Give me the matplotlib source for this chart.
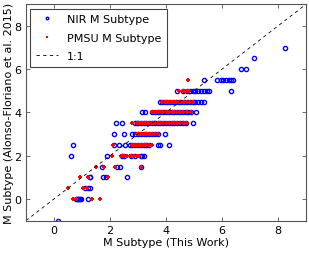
import matplotlib
matplotlib.use('Agg')
import matplotlib.pyplot as plt
import numpy as np

nir_levels = [-1, 0, 0.5, 1, 1.5, 2, 2.5, 3, 3.5, 4, 4.5, 5, 5.5, 6, 6.5, 7]
nir_x_rows = [
    [0.15],
    [0.78, 0.82, 0.85, 0.88, 0.92, 0.95, 1.2],
    [1.12, 1.2, 1.27],
    [1.27, 1.3, 1.74, 1.87, 2.6],
    [1.72, 2.25, 2.37, 3.1],
    [0.61, 1.9, 2.43, 2.5, 2.75, 2.9, 3.1, 3.15, 3.2],
    [0.69, 2.15, 2.33, 2.55, 2.7, 2.8, 2.9, 3.0, 3.1, 3.2, 3.3, 3.4, 3.7, 3.8, 4.1],
    [2.15, 2.5, 2.8, 2.9, 3.0, 3.1, 3.2, 3.3, 3.4, 3.5, 3.6, 3.7, 3.95],
    [2.22, 2.43, 2.9, 2.95, 3.0, 3.1, 3.2, 3.3, 3.4, 3.5, 3.6, 3.7, 3.8, 3.9, 4.0,
     4.1, 4.2, 4.3, 4.4, 4.5, 4.6, 4.7, 4.98],
    [3.15, 3.27, 3.5, 3.6, 3.7, 3.8, 3.9, 4.0, 4.1, 4.2, 4.3, 4.4, 4.5, 4.6, 4.7,
     4.8, 4.9, 5.07],
    [3.78, 3.85, 3.95, 4.05, 4.15, 4.25, 4.35, 4.45, 4.55, 4.65, 4.75, 4.85, 4.95,
     5.05, 5.15, 5.25, 5.37],
    [4.4, 4.6, 4.75, 4.85, 4.95, 5.05, 5.15, 5.25, 5.35, 5.45, 5.55, 6.32],
    [5.37, 5.84, 5.96, 6.05, 6.14, 6.26, 6.33, 6.4],
    [6.68, 6.86],
    [7.13],
    [8.24],
]

pmsu_levels = [0, 0.5, 1, 1.5, 2, 2.5, 3, 3.5, 4, 4.5, 5, 5.5]
pmsu_x_rows = [
    [0.67, 0.8, 1.35, 1.63],
    [0.51, 1.05, 1.17],
    [0.93, 1.23, 1.93],
    [1.5, 1.8, 2.17, 3.1],
    [2.07, 2.4, 2.45, 2.5, 2.6, 2.7, 2.75, 2.85, 2.95, 3.05],
    [2.1, 2.8, 2.85, 2.9, 2.95, 3.0, 3.05, 3.1, 3.15, 3.2, 3.25, 3.3, 3.4, 3.5],
    [2.97, 3.05, 3.1, 3.15, 3.2, 3.25, 3.3, 3.35, 3.4, 3.45, 3.5, 3.6, 3.7],
    [2.8, 2.95, 3.0, 3.05, 3.1, 3.15, 3.2, 3.25, 3.3, 3.35, 3.4, 3.5, 3.55, 3.6,
     3.7, 3.8, 3.9, 4.0, 4.1, 4.2, 4.3, 4.4, 4.5, 4.65, 4.77],
    [3.5, 3.55, 3.6, 3.65, 3.7, 3.75, 3.8, 3.85, 3.9, 4.0, 4.05, 4.1, 4.2, 4.3,
     4.4, 4.5, 4.6, 4.75, 4.9],
    [3.85, 3.95, 4.0, 4.05, 4.1, 4.15, 4.2, 4.25, 4.3, 4.35, 4.45, 4.55, 4.65,
     4.75, 4.85, 4.95],
    [4.47, 4.6, 4.65, 4.7, 4.75, 4.83],
    [4.8],
]

def _flatten(levels, rows):
    xs, ys = [], []
    for lev, row in zip(levels, rows):
        xs += row
        ys += [lev] * len(row)
    return np.array(xs), np.array(ys)

nir_x, nir_y = _flatten(nir_levels, nir_x_rows)
pmsu_x, pmsu_y = _flatten(pmsu_levels, pmsu_x_rows)

plt.rcParams['font.size'] = 8
fig = plt.figure(figsize=(3.09, 2.55), dpi=100)
ax = fig.add_axes([0.084, 0.131, 0.906, 0.848])

ax.plot(nir_x, nir_y, ls='none', marker='o', ms=3.0, mfc='none', mec='blue',
        mew=1.0, label='NIR M Subtype')
ax.plot(pmsu_x, pmsu_y, ls='none', marker='+', ms=3.5, color='red',
        mew=1.4, label='PMSU M Subtype')
ax.plot([-1, 9], [-1, 9], ls=(0, (4, 4)), color='black', lw=0.6, label='1:1')

ax.set_xlim(-1, 9)
ax.set_ylim(-1, 9)
ax.set_xticks([0, 2, 4, 6, 8])
ax.set_yticks([0, 2, 4, 6, 8])
ax.tick_params(direction='in', top=True, right=True, length=3, width=0.6,
               colors='#555555', labelcolor='black')
for s in ax.spines.values():
    s.set_color('#555555')
    s.set_linewidth(0.8)

ax.set_xlabel('M Subtype (This Work)', labelpad=1)
ax.set_ylabel('M Subtype (Alonso-Floriano et al. 2015)', labelpad=0)

leg = ax.legend(loc='upper left', numpoints=1, fancybox=False, framealpha=1,
                borderaxespad=0.4, handlelength=2.0, markerscale=0.6,
                labelspacing=0.75, borderpad=0.5)
leg.get_frame().set_edgecolor('#444444')
leg.get_frame().set_linewidth(0.8)

fig.savefig('out.png', dpi=100)
